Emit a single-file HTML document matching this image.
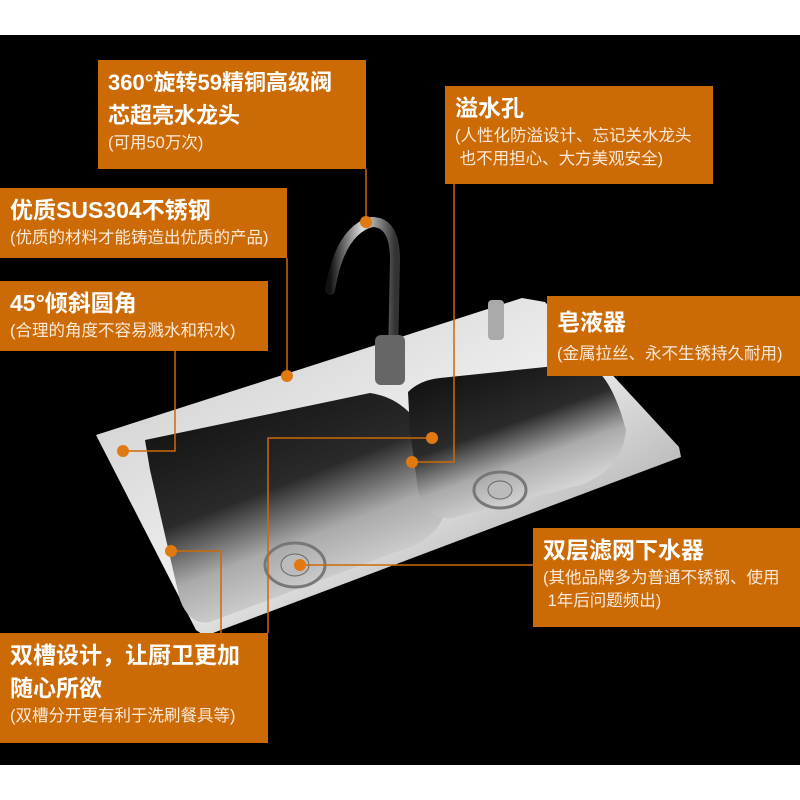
<!DOCTYPE html>
<html><head><meta charset="utf-8"><style>
body{margin:0;width:800px;height:800px;background:#fff;position:relative;overflow:hidden;font-family:"Liberation Sans","Noto Sans CJK SC",sans-serif}
#bg{position:absolute;left:0;top:35px;width:800px;height:730px;background:#000}
.b{position:absolute;background:#cc6a06;color:#fff;box-sizing:border-box;padding:6px 10px}
.t{font-weight:bold;font-size:23px;line-height:33px;white-space:nowrap}
.s{font-size:16.5px;line-height:23px;white-space:nowrap;color:#fbe9d8}
svg{position:absolute;left:0;top:0}
</style></head><body>
<div id="bg"></div>
<svg width="800" height="800">
<defs>
<linearGradient id="rim" x1="0" y1="0" x2="1" y2="1"><stop offset="0" stop-color="#c8c8c8"/><stop offset=".5" stop-color="#eee"/><stop offset="1" stop-color="#8a8a8a"/></linearGradient>
<linearGradient id="bas" x1="0" y1="0" x2="0.5" y2="1"><stop offset="0" stop-color="#0c0c0c"/><stop offset=".5" stop-color="#2a2a2a"/><stop offset=".72" stop-color="#aaa"/><stop offset="1" stop-color="#e0e0e0"/></linearGradient>
<linearGradient id="fau" x1="0" y1="0" x2="1" y2="0"><stop offset="0" stop-color="#111"/><stop offset=".5" stop-color="#ddd"/><stop offset="1" stop-color="#333"/></linearGradient>
</defs>
<polygon points="96,435 522,298 545,302 679,447 681,457 205,636 196,630" fill="url(#rim)"/>
<path d="M145,440 L370,393 Q420,400 440,470 L446,507 Q440,540 396,552 L210,622 Q190,626 180,600 L150,470 Z" fill="url(#bas)"/>
<path d="M408,392 Q420,380 440,378 L584,363 Q610,370 626,430 Q622,470 580,485 L452,518 Q425,520 418,490 L410,430 Z" fill="url(#bas)"/>
<ellipse cx="295" cy="565" rx="30" ry="22" fill="none" stroke="#777" stroke-width="3"/>
<ellipse cx="295" cy="565" rx="14" ry="11" fill="#bbb" stroke="#666"/>
<ellipse cx="500" cy="490" rx="26" ry="18" fill="none" stroke="#777" stroke-width="3"/>
<ellipse cx="500" cy="490" rx="12" ry="9" fill="#bbb" stroke="#666"/>
<path d="M330,290 Q340,230 372,222 Q395,222 395,260 L393,360" fill="none" stroke="url(#fau)" stroke-width="10" stroke-linecap="round"/>
<rect x="375" y="335" width="30" height="50" rx="6" fill="#666"/>
<rect x="488" y="300" width="16" height="40" rx="4" fill="#aaa"/>
<g stroke="#cc6a06" stroke-width="1.5" fill="none">
<path d="M366,169 V220"/><path d="M454,184 V462 H412"/><path d="M287,258 V376"/>
<path d="M175,351 V451 H123"/><path d="M221,633 V551 H171"/><path d="M268,633 V438 H432"/><path d="M533,565 H300"/>
</g>
<g fill="#e07a10"><circle cx="366" cy="222" r="6"/><circle cx="412" cy="462" r="6"/><circle cx="287" cy="376" r="6"/><circle cx="123" cy="451" r="6"/><circle cx="171" cy="551" r="6"/><circle cx="432" cy="438" r="6"/><circle cx="300" cy="565" r="6"/></g>
</svg>
<div class="b" style="left:98px;top:60px;width:268px;height:109px"><div class="t" style="font-size:22px">360°旋转59精铜高级阀<br>芯超亮水龙头</div><div class="s">(可用50万次)</div></div>
<div class="b" style="left:445px;top:86px;width:268px;height:98px"><div class="t">溢水孔</div><div class="s">(人性化防溢设计、忘记关水龙头<br>&nbsp;也不用担心、大方美观安全)</div></div>
<div class="b" style="left:0;top:188px;width:287px;height:70px"><div class="t">优质SUS304不锈钢</div><div class="s">(优质的材料才能铸造出优质的产品)</div></div>
<div class="b" style="left:0;top:281px;width:268px;height:70px"><div class="t">45°倾斜圆角</div><div class="s">(合理的角度不容易溅水和积水)</div></div>
<div class="b" style="left:547px;top:296px;width:253px;height:80px;padding-top:10px"><div class="t">皂液器</div><div class="s" style="margin-top:4px">(金属拉丝、永不生锈持久耐用)</div></div>
<div class="b" style="left:533px;top:528px;width:267px;height:99px"><div class="t">双层滤网下水器</div><div class="s">(其他品牌多为普通不锈钢、使用<br>&nbsp;1年后问题频出)</div></div>
<div class="b" style="left:0;top:633px;width:268px;height:110px"><div class="t">双槽设计，让厨卫更加<br>随心所欲</div><div class="s">(双槽分开更有利于洗刷餐具等)</div></div>
</body></html>
